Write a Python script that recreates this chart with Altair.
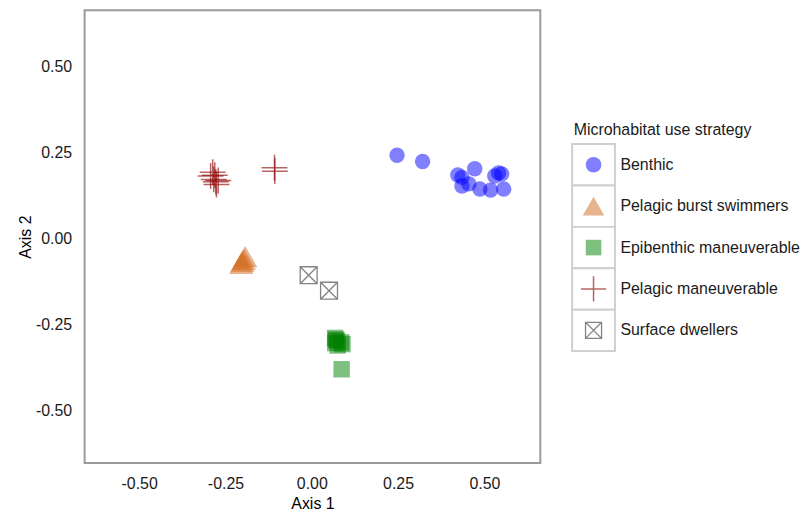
import altair as alt
import pandas as pd

# ---- data ----
categories = ["Benthic", "Pelagic burst swimmers", "Epibenthic maneuverable",
              "Pelagic maneuverable", "Surface dwellers"]

benthic_x = [0.247, 0.321, 0.423, 0.435, 0.472, 0.435, 0.455, 0.487, 0.518, 0.556, 0.530, 0.541, 0.550]
benthic_y = [0.241, 0.223, 0.184, 0.177, 0.202, 0.152, 0.158, 0.143, 0.140, 0.143, 0.181, 0.190, 0.187]

burst_x = [-0.204, -0.201, -0.197, -0.193]
burst_y = [-0.073, -0.067, -0.061, -0.053]

epi_x = [0.0675, 0.070, 0.073, 0.068, 0.085, 0.089, 0.075, 0.0865]
epi_y = [-0.289, -0.294, -0.297, -0.304, -0.302, -0.307, -0.311, -0.380]

pelman_x = [-0.293, -0.287, -0.284, -0.278, -0.276, -0.281, -0.271, -0.108, -0.107]
pelman_y = [0.181, 0.192, 0.171, 0.164, 0.156, 0.183, 0.168, 0.205, 0.195]

surface_x = [-0.009, 0.050]
surface_y = [-0.107, -0.152]

x_ticks = [-0.5, -0.25, 0.0, 0.25, 0.5]
y_ticks = [-0.5, -0.25, 0.0, 0.25, 0.5]

# ---- tables ----
rows = []
for cat, xs, ys in [(categories[0], benthic_x, benthic_y),
                    (categories[1], burst_x, burst_y),
                    (categories[2], epi_x, epi_y),
                    (categories[3], pelman_x, pelman_y),
                    (categories[4], surface_x, surface_y)]:
    for a, b in zip(xs, ys):
        rows.append({"group": cat, "x": a, "y": b})
df = pd.DataFrame(rows)
leg_df = pd.DataFrame({"group": categories})

FONT = "Liberation Sans"
CROSS = "M-1,0L1,0M0,-1L0,1"
SQCROSS = "M-1,-1L1,-1L1,1L-1,1ZM-1,-1L1,1M-1,1L1,-1"

styles = {
    categories[0]: dict(shape="circle", filled=True, color="#0000FF", opacity=0.5, size=240, lsize=246),
    categories[1]: dict(shape="triangle-up", filled=True, color="#D2691E", opacity=0.5, size=600, lsize=470),
    categories[2]: dict(shape="square", filled=True, color="#008000", opacity=0.5, size=272, lsize=246),
    categories[3]: dict(shape=CROSS, filled=False, color="#8B0000", opacity=0.6, size=676, lsize=640, strokeWidth=1.5),
    categories[4]: dict(shape=SQCROSS, filled=False, color="#333333", opacity=0.6, size=289, lsize=260, strokeWidth=1.3),
}

label_expr = "datum.value < 0 ? '-' + format(abs(datum.value), '.2f') : format(datum.value, '.2f')"

x_enc = alt.X("x:Q", scale=alt.Scale(domain=[-0.658, 0.662], nice=False, zero=False),
              axis=alt.Axis(values=x_ticks, title="Axis 1", labelExpr=label_expr, ticks=False,
                            domain=False, grid=False, labelPadding=13, titlePadding=4,
                            labelFontSize=16, titleFontSize=16, titleFontWeight="normal",
                            labelColor="#1a1a1a", titleColor="#000000"))
y_enc = alt.Y("y:Q", scale=alt.Scale(domain=[-0.652, 0.662], nice=False, zero=False),
              axis=alt.Axis(values=y_ticks, title="Axis 2", labelExpr=label_expr, ticks=False,
                            domain=False, grid=False, labelPadding=13, titlePadding=2,
                            labelFontSize=16, titleFontSize=16, titleFontWeight="normal",
                            labelColor="#1a1a1a", titleColor="#000000"))

layers = []
for cat in categories:
    st = styles[cat]
    kw = dict(shape=st["shape"], filled=st["filled"], color=st["color"],
              opacity=st["opacity"], size=st["size"])
    if "strokeWidth" in st:
        kw["strokeWidth"] = st["strokeWidth"]
    layers.append(
        alt.Chart(df).mark_point(**kw)
        .encode(x=x_enc, y=y_enc)
        .transform_filter(alt.datum.group == cat)
    )

main = alt.layer(*layers).properties(
    width=458, height=455,
    view=alt.ViewBackground(stroke="#9a9a9a", strokeWidth=2),
)

# ---- legend panel ----
ly = alt.Y("group:N", sort=categories, axis=None,
           scale=alt.Scale(domain=categories, range=[134.5, 342.5], paddingInner=0, paddingOuter=0))

leg_layers = [
    alt.Chart(leg_df).mark_rect(fill="white", stroke="#cfcfcf", strokeWidth=2)
    .encode(y=ly, x=alt.value(0), x2=alt.value(43))
]
for cat in categories:
    st = styles[cat]
    kw = dict(shape=st["shape"], filled=st["filled"], color=st["color"],
              opacity=st["opacity"], size=st["lsize"])
    if "strokeWidth" in st:
        kw["strokeWidth"] = st["strokeWidth"]
    leg_layers.append(
        alt.Chart(leg_df).mark_point(**kw)
        .encode(y=ly, x=alt.value(21.5))
        .transform_filter(alt.datum.group == cat)
    )
leg_layers.append(
    alt.Chart(leg_df).mark_text(align="left", baseline="middle", fontSize=16, color="#1a1a1a", font=FONT)
    .encode(y=ly, x=alt.value(48.5), text="group:N")
)
leg_layers.append(
    alt.Chart(pd.DataFrame({"t": ["Microhabitat use strategy"]}))
    .mark_text(align="left", baseline="middle", fontSize=16, color="#1a1a1a", font=FONT)
    .encode(x=alt.value(1.5), y=alt.value(120), text="t:N")
)
legend = alt.layer(*leg_layers).properties(width=45, height=455)

chart = alt.hconcat(main, legend, spacing=29).properties(
    padding={"left": 8, "top": 0, "right": 0, "bottom": 0}
).configure(font=FONT).configure_view(stroke="transparent")

chart.save("out.html", embed_options={"renderer": "svg", "actions": False})
